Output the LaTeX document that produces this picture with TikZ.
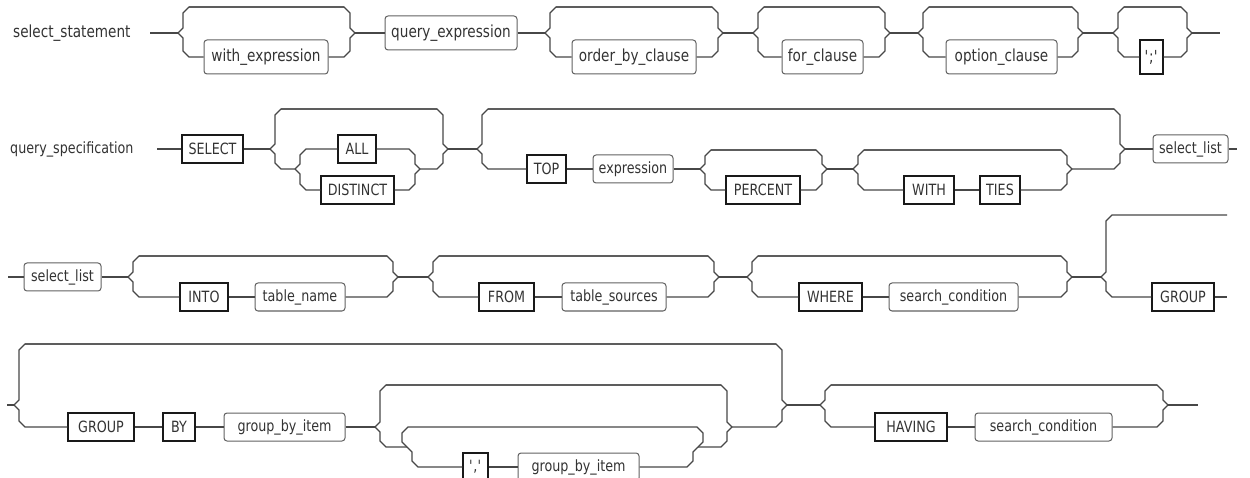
\documentclass[tikz,border=0pt]{standalone}
\usepackage{fontspec}
\setmainfont{DejaVu Sans}[FakeStretch=0.82]
\newcommand{\rowfontA}{\fontsize{16.6}{19}\selectfont}
\newcommand{\rowfontB}{\fontsize{15.5}{18}\selectfont}
% one leg of a choice bracket:
% #1,#2 junction, #3 +1 opens right / -1 opens left, #4 y of branch, #5 where the branch ends
\newcommand{\legto}[5]{\draw[wire] (#1,#2) -- ({#1+(#3)*5},{#2+5*sign((#4)-(#2))}) -- ({#1+(#3)*5},{#4-6*sign((#4)-(#2))}) -- ({#1+(#3)*11},#4) -- #5;}
\begin{document}
\begin{tikzpicture}[x=1pt,y=-1pt,
  wire/.style={draw=black!72, line width=1.2pt, line join=miter},
  boxbase/.style={inner sep=0pt, text=black!80, font=\rowfontB},
  term/.style={boxbase, draw=black!90, line width=1.2pt, minimum height=28pt},
  nterm/.style={boxbase, draw=black!62, line width=1pt, rounded corners=3pt, minimum height=28pt},
  big/.style={minimum height=34pt, font=\rowfontA},
  rulename/.style={anchor=west, inner sep=0pt, text=black!80}]
\useasboundingbox (0,0) rectangle (1250,478);
\fill[white] (0,0) rectangle (1250,478);
\clip (0,0) rectangle (1250,478);

% ---------------- select_statement ----------------
\node[rulename, font=\rowfontA] (lblA) at (13,33) {select\_statement};
\coordinate (a0) at (150,33);
\coordinate (a1) at (178,33);  \coordinate (a2) at (355,33);
\coordinate (a3) at (545,33);  \coordinate (a4) at (723,33);
\coordinate (a5) at (753,33);  \coordinate (a6) at (890,33);
\coordinate (a7) at (918,33);  \coordinate (a8) at (1083,33);
\coordinate (a9) at (1113,33); \coordinate (a10) at (1192,33);
\coordinate (a11) at (1220,33);
\node[nterm, big, minimum width=124] (wexp) at (266,57) {with\_expression};
\node[nterm, big, minimum width=132] (qexp) at (451,33) {query\_expression};
\node[nterm, big, minimum width=124] (obc) at (634,57) {order\_by\_clause};
\node[nterm, big, minimum width=81] (forc) at (822.5,57) {for\_clause};
\node[nterm, big, minimum width=111] (optc) at (1001.5,57) {option\_clause};
\node[term, big, minimum width=23] (semiA) at (1151.5,57) {\textquotesingle;\textquotesingle};

\draw[wire] (a0) -- (a1);
\legto{178}{33}{1}{7}{(344,7)}   \legto{355}{33}{-1}{7}{(189,7)}
\legto{178}{33}{1}{57}{(wexp.west)} \legto{355}{33}{-1}{57}{(wexp.east)}
\draw[wire] (a2) -- (qexp.west);
\draw[wire] (qexp.east) -- (a3);
\legto{545}{33}{1}{7}{(712,7)}   \legto{723}{33}{-1}{7}{(556,7)}
\legto{545}{33}{1}{57}{(obc.west)} \legto{723}{33}{-1}{57}{(obc.east)}
\draw[wire] (a4) -- (a5);
\legto{753}{33}{1}{7}{(879,7)}   \legto{890}{33}{-1}{7}{(764,7)}
\legto{753}{33}{1}{57}{(forc.west)} \legto{890}{33}{-1}{57}{(forc.east)}
\draw[wire] (a6) -- (a7);
\legto{918}{33}{1}{7}{(1072,7)}  \legto{1083}{33}{-1}{7}{(929,7)}
\legto{918}{33}{1}{57}{(optc.west)} \legto{1083}{33}{-1}{57}{(optc.east)}
\draw[wire] (a8) -- (a9);
\legto{1113}{33}{1}{7}{(1181,7)} \legto{1192}{33}{-1}{7}{(1124,7)}
\legto{1113}{33}{1}{57}{(semiA.west)} \legto{1192}{33}{-1}{57}{(semiA.east)}
\draw[wire] (a10) -- (a11);

% ---------------- query_specification ----------------
\node[rulename, font=\rowfontB] (lblB) at (10,149) {query\_specification};
\coordinate (b0) at (157,149);
\coordinate (b1) at (270,149);  \coordinate (b2) at (295,169);
\coordinate (b3) at (420,169);  \coordinate (b4) at (448,149);
\coordinate (b5) at (477,149);  \coordinate (b6) at (700,169);
\coordinate (b7) at (827,169);  \coordinate (b8) at (853,169);
\coordinate (b9) at (1072,169); \coordinate (b10) at (1125,149);
\coordinate (b11) at (1237,149);
\node[term, minimum width=61] (sel) at (212.5,149) {SELECT};
\node[term, minimum width=38] (all) at (357,149) {ALL};
\node[term, minimum width=73] (dist) at (357.5,190) {DISTINCT};
\node[term, minimum width=39] (top) at (546.5,169) {TOP};
\node[nterm, minimum width=80] (expr) at (633,169) {expression};
\node[term, minimum width=74] (pct) at (763,190) {PERCENT};
\node[term, minimum width=50] (with) at (929,190) {WITH};
\node[term, minimum width=40] (ties) at (1000,190) {TIES};
\node[nterm, minimum width=75] (slA) at (1190.5,149) {select\_list};

\draw[wire] (b0) -- (sel.west);
\draw[wire] (sel.east) -- (b1);
\legto{270}{149}{1}{109}{(437,109)} \legto{448}{149}{-1}{109}{(281,109)}
\legto{270}{149}{1}{169}{(b2)}      \legto{448}{149}{-1}{169}{(b3)}
\legto{295}{169}{1}{149}{(all.west)}  \legto{420}{169}{-1}{149}{(all.east)}
\legto{295}{169}{1}{190}{(dist.west)} \legto{420}{169}{-1}{190}{(dist.east)}
\draw[wire] (b4) -- (b5);
\legto{477}{149}{1}{109}{(1114,109)} \legto{1125}{149}{-1}{109}{(488,109)}
\legto{477}{149}{1}{169}{(top.west)}
\draw[wire] (top.east) -- (expr.west);
\draw[wire] (expr.east) -- (b6);
\legto{700}{169}{1}{150}{(816,150)} \legto{827}{169}{-1}{150}{(711,150)}
\legto{700}{169}{1}{190}{(pct.west)} \legto{827}{169}{-1}{190}{(pct.east)}
\draw[wire] (b7) -- (b8);
\legto{853}{169}{1}{150}{(1061,150)} \legto{1072}{169}{-1}{150}{(864,150)}
\legto{853}{169}{1}{190}{(with.west)}
\draw[wire] (with.east) -- (ties.west);
\legto{1072}{169}{-1}{190}{(ties.east)}
\legto{1125}{149}{-1}{169}{(b9)}
\draw[wire] (b10) -- (slA.west);
\draw[wire] (slA.east) -- (b11);

% ---------------- continuation: select_list ... GROUP ----------------
\coordinate (c0) at (8,277);
\coordinate (c1) at (128,277);  \coordinate (c2) at (398,277);
\coordinate (c3) at (428,277);  \coordinate (c4) at (719,277);
\coordinate (c5) at (747,277);  \coordinate (c6) at (1072,277);
\coordinate (c7) at (1101,277); \coordinate (c8) at (1227,297);
\node[nterm, minimum width=77] (slB) at (62.5,277) {select\_list};
\node[term, minimum width=48] (into) at (204,297) {INTO};
\node[nterm, minimum width=90] (tname) at (300,297) {table\_name};
\node[term, minimum width=55] (from) at (506.5,297) {FROM};
\node[nterm, minimum width=104] (tsrc) at (614,297) {table\_sources};
\node[term, minimum width=63] (where) at (830.5,297) {WHERE};
\node[nterm, minimum width=129] (scondA) at (953.5,297) {search\_condition};
\node[term, minimum width=62] (grpA) at (1183,297) {GROUP};

\draw[wire] (c0) -- (slB.west);
\draw[wire] (slB.east) -- (c1);
\legto{128}{277}{1}{256}{(387,256)} \legto{398}{277}{-1}{256}{(139,256)}
\legto{128}{277}{1}{297}{(into.west)}
\draw[wire] (into.east) -- (tname.west);
\legto{398}{277}{-1}{297}{(tname.east)}
\draw[wire] (c2) -- (c3);
\legto{428}{277}{1}{256}{(708,256)} \legto{719}{277}{-1}{256}{(439,256)}
\legto{428}{277}{1}{297}{(from.west)}
\draw[wire] (from.east) -- (tsrc.west);
\legto{719}{277}{-1}{297}{(tsrc.east)}
\draw[wire] (c4) -- (c5);
\legto{747}{277}{1}{256}{(1061,256)} \legto{1072}{277}{-1}{256}{(758,256)}
\legto{747}{277}{1}{297}{(where.west)}
\draw[wire] (where.east) -- (scondA.west);
\legto{1072}{277}{-1}{297}{(scondA.east)}
\draw[wire] (c6) -- (c7);
\legto{1101}{277}{1}{215}{(1227,215)}
\legto{1101}{277}{1}{297}{(grpA.west)}
\draw[wire] (grpA.east) -- (c8);

% ---------------- continuation: GROUP BY ... HAVING ----------------
\coordinate (d0) at (7,405);
\coordinate (d1) at (14,405);   \coordinate (d2) at (375,427);
\coordinate (d3) at (407,447);  \coordinate (d4) at (698,447);
\coordinate (d5) at (732,427);  \coordinate (d6) at (787,405);
\coordinate (d7) at (820,405);  \coordinate (d8) at (1168,405);
\coordinate (d9) at (1198,405);
\node[term, minimum width=66] (grpB) at (101,427) {GROUP};
\node[term, minimum width=32] (by) at (179,427) {BY};
\node[nterm, minimum width=121] (gbiA) at (284.5,427) {group\_by\_item};
\node[term, minimum width=25] (comma) at (475.5,467) {\textquotesingle,\textquotesingle};
\node[nterm, minimum width=121] (gbiB) at (578.5,467) {group\_by\_item};
\node[term, minimum width=72] (having) at (911,427) {HAVING};
\node[nterm, minimum width=137] (scondB) at (1043.5,427) {search\_condition};

\draw[wire] (d0) -- (d1);
\legto{14}{405}{1}{344}{(776,344)} \legto{787}{405}{-1}{344}{(25,344)}
\legto{14}{405}{1}{427}{(grpB.west)}
\draw[wire] (grpB.east) -- (by.west);
\draw[wire] (by.east) -- (gbiA.west);
\draw[wire] (gbiA.east) -- (d2);
\legto{375}{427}{1}{385}{(721,385)} \legto{732}{427}{-1}{385}{(386,385)}
\legto{375}{427}{1}{447}{(d3)}
% repetition loop with its return path on top
\draw[wire] (d3) -- (402,442) -- (402,433) -- (408,427) -- (697,427) -- (703,433) -- (703,442) -- (d4);
\legto{407}{447}{1}{467}{(comma.west)}
\draw[wire] (comma.east) -- (gbiB.west);
\legto{698}{447}{-1}{467}{(gbiB.east)}
\legto{732}{427}{-1}{447}{(d4)}
\legto{787}{405}{-1}{427}{(d5)}
\draw[wire] (d6) -- (d7);
\legto{820}{405}{1}{385}{(1157,385)} \legto{1168}{405}{-1}{385}{(831,385)}
\legto{820}{405}{1}{427}{(having.west)}
\draw[wire] (having.east) -- (scondB.west);
\legto{1168}{405}{-1}{427}{(scondB.east)}
\draw[wire] (d8) -- (d9);
\end{tikzpicture}
\end{document}
